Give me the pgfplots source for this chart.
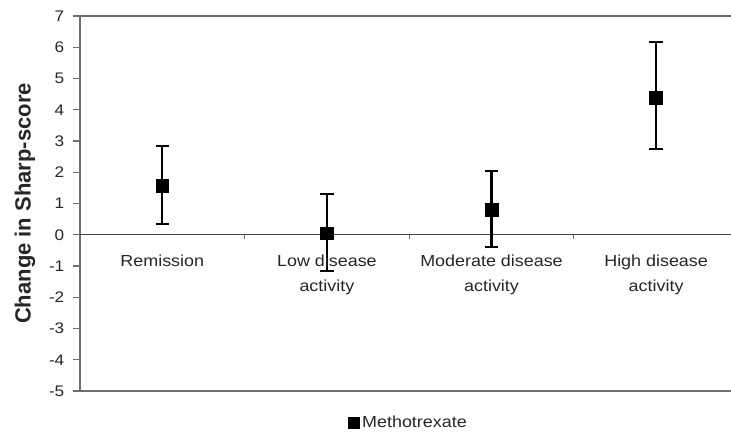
\documentclass[border=0pt]{standalone}
\usepackage{pgfplots}
\pgfplotsset{compat=1.18}
\usepackage{pgfplotstable}
\usepackage{fontspec}
\setmainfont{Liberation Sans}[FakeStretch=1.12]
\newfontfamily\labfont{Liberation Sans}

% x = category index, y = mean change, ep/em = upper/lower error
\pgfplotstableread{
x    y     ep    em
0    1.58  1.27  1.23
1    0.05  1.26  1.22
2    0.80  1.25  1.19
3    4.39  1.77  1.64
}\mtx

\definecolor{axisgray}{HTML}{6E6E6E}

\begin{document}
\begin{tikzpicture}
\begin{axis}[
    scale only axis,
    width=488.25pt, height=281.25pt,
    xmin=-0.5, xmax=3.455,
    ymin=-5, ymax=7,
    axis x line=box, axis y line=left,
    axis line style={axisgray, line width=1.2pt, -},
    xtick=\empty,
    ytick={-5,...,7},
    yticklabels={-5,-4,-3,-2,-1,0,1,2,3,4,5,6,7},
    tick align=outside,
    major tick length=5.25pt,
    tick style={axisgray, line width=1pt},
    yticklabel style={font=\fontsize{11.5}{13}\selectfont, text=black!85, xshift=-3pt},
    ylabel={\labfont\bfseries Change in Sharp-score},
    ylabel style={at={(axis description cs:-0.0845,0.5)}, anchor=center,
        font=\fontsize{16.5}{18}\selectfont, text=black!85},
    legend style={draw=none, fill=none, at={(axis description cs:0.505,-0.0853)},
        anchor=center, font=\fontsize{12}{14}\selectfont, text=black!85,
        /tikz/every even column/.append style={column sep=2pt}},
    legend image code/.code={\draw[black, fill=black] plot[mark=square*, mark size=4.3pt] coordinates {(0cm,0cm)};},
    clip=false,
]
\addplot[axisgray!60!black, line width=1pt, forget plot] coordinates {(-0.5,0) (3.455,0)};
\addplot[only marks, mark=square*, mark size=4.8pt, black,
    error bars/.cd, y dir=both, y explicit,
    error bar style={line width=1.6pt, black},
    error mark options={rotate=90, mark size=5pt, line width=1.6pt, black}]
    table[x=x, y=y, y error plus=ep, y error minus=em] {\mtx};
\addlegendentry{Methotrexate}
\foreach \t in {0.5,1.5,2.5} {
    \edef\tmp{\noexpand\draw[axisgray, line width=0.8pt] (axis cs:\t,0) -- ([yshift=-3pt]axis cs:\t,0);}\tmp
}
\node[anchor=north, inner sep=0pt, yshift=-15pt, align=center, text=black!85,
    font=\fontsize{12}{18.75}\selectfont] at (axis cs:0,0) {Remission};
\node[anchor=north, inner sep=0pt, yshift=-15pt, align=center, text=black!85,
    font=\fontsize{12}{18.75}\selectfont] at (axis cs:1,0) {Low disease\\activity};
\node[anchor=north, inner sep=0pt, yshift=-15pt, align=center, text=black!85,
    font=\fontsize{12}{18.75}\selectfont] at (axis cs:2,0) {Moderate disease\\activity};
\node[anchor=north, inner sep=0pt, yshift=-15pt, align=center, text=black!85,
    font=\fontsize{12}{18.75}\selectfont] at (axis cs:3,0) {High disease\\activity};
\end{axis}
\pgfresetboundingbox
\path ([xshift=-60pt,yshift=-32.25pt]current axis.south west) rectangle ([yshift=12pt]current axis.north east);
\end{tikzpicture}
\end{document}
